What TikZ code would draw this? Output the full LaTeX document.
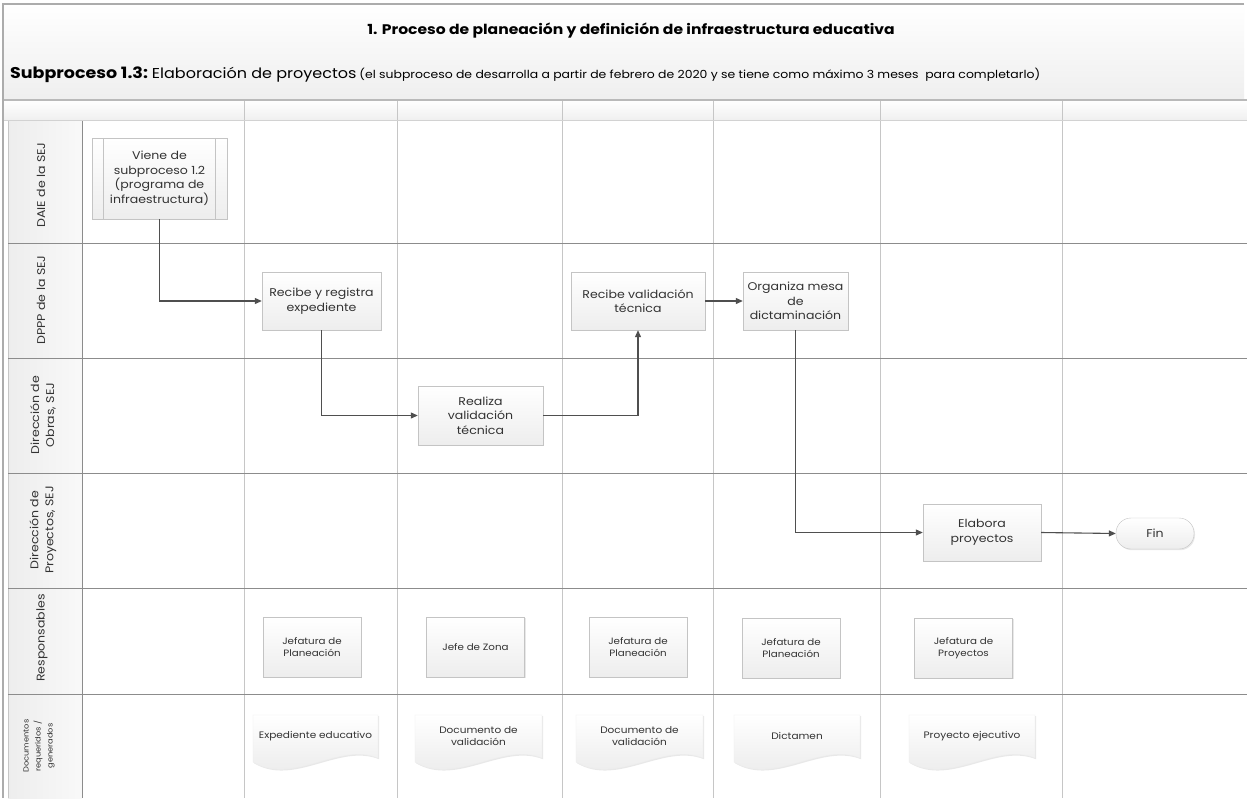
\documentclass[tikz,border=0pt]{standalone}
\usepackage{fontspec}
\setmainfont{Poppins}[FakeStretch=1.12]
\usetikzlibrary{arrows.meta,shadows}
\definecolor{ink}{HTML}{333333}
\definecolor{wire}{HTML}{4F4F4F}
\definecolor{laneline}{HTML}{8C8C8C}
\definecolor{colline}{HTML}{C6C6C6}
\definecolor{boxline}{HTML}{C4C4C4}
\tikzset{
  softshadow/.style={drop shadow={opacity=.18, shadow xshift=1pt, shadow yshift=-1.2pt}},
  proc/.style={rectangle, draw=boxline, top color=white, bottom color=gray!14,
    text=ink, align=center, inner sep=2pt, softshadow,
    font=\fontsize{11.2}{14.5}\selectfont},
  terminal/.style={proc, rounded corners=15pt},
  role/.style={proc, minimum width=98, minimum height=60,
    font=\fontsize{9.2}{12.5}\selectfont},
  doctext/.style={text=ink, align=center, font=\fontsize{9.4}{12.5}\selectfont},
  lanelabel/.style={rotate=90, text=ink, align=center,
    font=\fontsize{11.2}{15}\selectfont},
  flow/.style={draw=wire, line width=1.1pt, -{Triangle[length=7pt,width=6pt]}},
  docshape/.style={draw=gray!14, top color=white, bottom color=gray!18, softshadow},
}
% document symbol with a wavy lower edge, between x=#1 and x=#2
\newcommand\docsymbol[2]{%
  \path[docshape] (#1,715) -- (#2,715) -- (#2,758)
    .. controls ({#1+0.68*(#2-#1)},742) and ({#1+0.32*(#2-#1)},786) .. (#1,762) -- cycle;}
\begin{document}
\begin{tikzpicture}[x=1pt,y=-1pt]
\useasboundingbox (0,0) rectangle (1247,798);
\fill[white] (0,0) rectangle (1247,798);

% title band and column header row
\fill[top color=white, bottom color=gray!13] (3,4) rectangle (1244,100);
\fill[top color=white, bottom color=gray!12] (3,100) rectangle (1247,120);
% lane label column
\fill[left color=gray!14, right color=gray!5] (8,120) rectangle (82,798);

% column dividers
\foreach \cx in {244,397,562,713,880,1062}
  \draw[colline, line width=0.9pt] (\cx,100) -- (\cx,798);
\draw[laneline, line width=0.9pt] (82,120) -- (82,798);
\draw[colline, line width=0.9pt] (8,120) -- (8,798);

% lane separators
\draw[gray!55, line width=1.2pt] (3,100) -- (1247,100);
\draw[gray!35, line width=0.8pt] (3,120) -- (1247,120);
\foreach \ly in {243,358,473,588,694}
  \draw[laneline, line width=1pt] (8,\ly) -- (1247,\ly);

% outer frame
\draw[gray!65, line width=2pt] (1244,4) -- (3,4) -- (3,798);

% headings
\node[font=\bfseries\fontsize{13.9}{16}\selectfont, text=black] (title) at (631,31)
  {1. Proceso de planeación y definición de infraestructura educativa};
\node[anchor=base west, inner sep=0pt, text=black] (subtitle) at (10,78)
  {{\bfseries\fontsize{15.6}{17}\selectfont Subproceso 1.3:} {\fontsize{14.3}{16}\selectfont Elaboración de proyectos}
   {\fontsize{11.1}{12}\selectfont (el subproceso de desarrolla a partir de febrero de 2020 y se tiene como máximo 3 meses \ para completarlo)}};

% lane labels
\node[lanelabel] (l1) at (41,185) {DAIE de la SEJ};
\node[lanelabel] (l2) at (41,300) {DPPP de la SEJ};
\node[lanelabel] (l3) at (43,415) {Dirección de\\Obras, SEJ};
\node[lanelabel] (l4) at (43,530) {Dirección de\\Proyectos, SEJ};
\node[lanelabel] (l5) at (42,638) {Responsables};
\node[lanelabel, font=\fontsize{7.4}{12}\selectfont] (l6) at (39,746)
  {Documentos\\requeridos /\\generados};

% process steps
\node[proc, minimum width=135, minimum height=81] (viene) at (159.5,178.5)
  {Viene de\\subproceso 1.2\\(programa de\\infraestructura)};
\draw[boxline] ([xshift=11pt]viene.north west) -- ([xshift=11pt]viene.south west);
\draw[boxline] ([xshift=-12pt]viene.north east) -- ([xshift=-12pt]viene.south east);
\node[proc, minimum width=119, minimum height=58] (recibe) at (321.5,301)
  {Recibe y registra\\expediente};
\node[proc, minimum width=125, minimum height=59] (realiza) at (480.5,415.5)
  {Realiza\\validación\\técnica};
\node[proc, minimum width=134, minimum height=58] (recval) at (638,301)
  {Recibe validación\\técnica};
\node[proc, minimum width=105, minimum height=58] (organiza) at (795.5,301)
  {Organiza mesa\\de\\dictaminación};
\node[proc, minimum width=118, minimum height=57] (elabora) at (982,532.5)
  {Elabora\\proyectos};
\node[terminal, minimum width=78, minimum height=31] (fin) at (1155,533.5) {Fin};

% flow
\draw[flow] (viene.south) |- (recibe.west);
\draw[flow] (recibe.south) |- (realiza.west);
\draw[flow] (realiza.east) -| (recval.south);
\draw[flow] (recval.east) -- (organiza.west);
\draw[flow] (organiza.south) |- (elabora.west);
\draw[flow] (elabora.east) -- (fin.west);

% responsible units
\node[role] (r1) at (312,647) {Jefatura de\\Planeación};
\node[role] (r2) at (475.5,647) {Jefe de Zona};
\node[role] (r3) at (638,647) {Jefatura de\\Planeación};
\node[role] (r4) at (791,648) {Jefatura de\\Planeación};
\node[role] (r5) at (963.5,648) {Jefatura de\\Proyectos};

% documents
\docsymbol{253}{378}
\docsymbol{415}{542}
\docsymbol{576}{703}
\docsymbol{734}{860}
\docsymbol{909}{1035}
\node[doctext] (d1) at (315.5,736) {Expediente educativo};
\node[doctext] (d2) at (478.5,736) {Documento de\\validación};
\node[doctext] (d3) at (639.5,736) {Documento de\\validación};
\node[doctext] (d4) at (797,736) {Dictamen};
\node[doctext] (d5) at (972,736) {Proyecto ejecutivo};
\end{tikzpicture}
\end{document}
